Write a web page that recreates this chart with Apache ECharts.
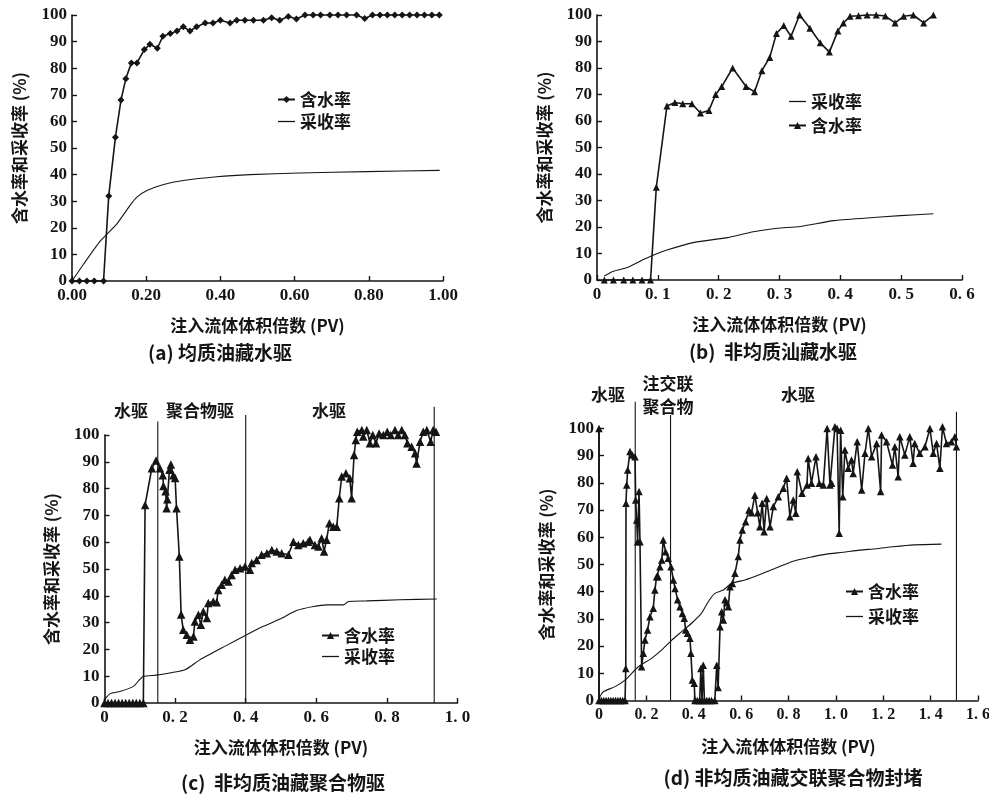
<!DOCTYPE html>
<html><head><meta charset="utf-8">
<script src="https://cdn.jsdelivr.net/npm/echarts@6/dist/echarts.min.js"></script>
<style>html,body{margin:0;padding:0;background:#fff}#c{width:989px;height:796px}</style>
</head><body><div id="c"></div>
<script>
// ---------- (a) 均质油藏水驱 ----------
const pvA_wc = [0,0.02,0.04,0.06,0.085,0.099,0.117,0.132,0.145,0.16,0.175,0.195,0.21,0.23,0.245,0.265,0.283,0.30,0.318,0.336,0.359,0.38,0.40,0.426,0.444,0.466,0.489,0.516,0.538,0.56,0.583,0.605,0.628,0.65,0.67,0.695,0.717,0.74,0.767,0.789,0.81,0.83,0.85,0.87,0.89,0.91,0.93,0.95,0.97,0.99];
const wcA = [0,0,0,0,0,32,54,68,76,82,82,87,89,87.5,92,93,94,95.6,94,95.6,97,97,98,97,98,98,98,98,99,98,99.4,98.5,100,100,100,100,100,100,100,98.7,100,100,100,100,100,100,100,100,100,100];
const pvA_rf = [0,0.031,0.076,0.121,0.157,0.175,0.202,0.247,0.3,0.39,0.48,0.614,0.794,0.991];
const rfA = [0,6.3,15,21.5,28.5,31.5,34,36.3,37.8,39.2,40,40.6,41.1,41.6];

// ---------- (b) 非均质油藏水驱 ----------
const pvB_wc = [0.012,0.027,0.044,0.059,0.074,0.088,0.0975,0.115,0.128,0.141,0.156,0.17,0.184,0.195,0.205,0.223,0.245,0.259,0.271,0.284,0.295,0.307,0.319,0.333,0.35,0.367,0.382,0.396,0.405,0.416,0.43,0.444,0.459,0.474,0.49,0.504,0.52,0.537,0.553];
const wcB = [0,0,0,0,0,0,35,65.7,67,66.5,66.5,63,64,70,73,80,73,71,79,84,93,96,92,100,95,89.5,86,94,97,99.5,99.7,100,100,99.6,97,99.5,100,97,100];
const pvB_rf = [0.012,0.027,0.05,0.07,0.093,0.115,0.16,0.215,0.257,0.296,0.334,0.389,0.444,0.499,0.553];
const rfB = [1.5,3.3,4.7,7,9.4,11.3,14.2,16,18.2,19.5,20.2,22.4,23.4,24.3,25];

// ---------- (c) 非均质油藏聚合物驱 ----------
const pvC_wc = [0,0.01,0.02,0.03,0.04,0.05,0.06,0.07,0.08,0.09,0.1,0.11,0.115,0.134,0.146,0.157,0.165,0.167,0.173,0.176,0.178,0.184,0.188,0.195,0.2,0.204,0.212,0.217,0.223,0.233,0.242,0.252,0.256,0.266,0.273,0.28,0.29,0.294,0.308,0.318,0.322,0.332,0.341,0.351,0.36,0.37,0.384,0.398,0.412,0.417,0.431,0.445,0.46,0.474,0.488,0.502,0.521,0.535,0.549,0.563,0.577,0.582,0.596,0.606,0.615,0.622,0.629,0.637,0.648,0.658,0.665,0.672,0.684,0.695,0.7,0.707,0.712,0.716,0.729,0.733,0.743,0.752,0.76,0.769,0.778,0.79,0.801,0.811,0.823,0.832,0.842,0.851,0.858,0.87,0.88,0.884,0.894,0.903,0.913,0.924,0.931,0.939];
const wcC = [0,0,0,0,0,0,0,0,0,0,0,0,73.9,87.6,90.5,87.6,85,81,79,72.7,76,87,89,85,84,72.7,54.7,33,27.3,25.5,23.6,24.8,30.4,32.9,29.2,34.1,31.7,37.3,37.9,37.6,42.2,44.1,46,45.3,47.8,49.7,50.3,50.9,49.7,52.2,53.4,55.3,55.9,57.1,56.5,55.9,55.3,60.2,59,59.6,60.2,60.9,59,58.4,61.5,56.5,60.9,67.1,65.8,65.8,76.4,84.5,85.7,83.9,76.4,92.5,98.1,101.2,101.9,99.4,101.9,96.9,100,96.9,100.6,100,101.2,100,101.9,100,101.9,100,96.9,95.6,93.2,89.4,97.5,101.2,101.9,97.5,101.9,101.2];
const pvC_rf = [0,0.016,0.044,0.082,0.1,0.11,0.152,0.228,0.27,0.346,0.403,0.45,0.497,0.544,0.592,0.629,0.677,0.691,0.743,0.837,0.941];
const rfC = [1.2,3.5,4.3,6.2,8.8,9.9,10.5,12.4,16.1,21.5,25.5,28.6,31.3,34.5,36,36.6,36.6,37.9,38.1,38.5,38.8];
const stageLinesC = [[0.151,105],[0.4,107.5],[0.934,110.5]];

// ---------- (d) 非均质油藏交联聚合物封堵 ----------
const pvD_wc = [0,0,0.01,0.02,0.03,0.04,0.05,0.06,0.07,0.08,0.09,0.1,0.11,0.113,0.114,0.117,0.121,0.131,0.141,0.152,0.155,0.159,0.163,0.169,0.173,0.18,0.187,0.194,0.205,0.215,0.229,0.236,0.243,0.25,0.257,0.265,0.271,0.281,0.292,0.304,0.314,0.321,0.332,0.342,0.352,0.36,0.366,0.374,0.384,0.388,0.394,0.402,0.405,0.415,0.425,0.43,0.435,0.44,0.445,0.455,0.465,0.475,0.489,0.497,0.503,0.511,0.518,0.525,0.532,0.539,0.546,0.553,0.563,0.574,0.588,0.595,0.605,0.619,0.633,0.644,0.658,0.67,0.679,0.689,0.697,0.708,0.722,0.736,0.757,0.778,0.792,0.806,0.82,0.831,0.837,0.857,0.878,0.883,0.897,0.916,0.93,0.947,0.963,0.975,0.982,0.996,1.005,1.014,1.02,1.029,1.038,1.052,1.066,1.073,1.09,1.109,1.123,1.137,1.151,1.172,1.189,1.193,1.214,1.239,1.249,1.263,1.27,1.291,1.312,1.326,1.333,1.354,1.376,1.397,1.411,1.425,1.439,1.45,1.467,1.488,1.502,1.509];
const wcD = [100,0,0,0,0,0,0,0,0,0,0,0,0,11.8,72.5,79.2,84.7,91.5,90.3,89.6,73.7,66.4,58.4,76.8,58.4,12.4,17.4,22.2,25.9,30.8,33.9,40.6,45.5,45.5,49.2,51.7,59,54.7,52.3,49.2,44.3,41.2,37,34.5,32,30.2,25.9,24.7,22.9,17.4,7.5,6.3,0,0,0,11.8,0,13,0,0,0,0,0,13,4.8,27.1,32.6,29.6,37,36,34.5,41.8,43,46.8,52.9,59,62.7,65.7,70,69,75.5,69,63.9,72.5,62,74.3,63.9,71.3,74.9,78,81.7,67.6,73.7,68.8,84.1,76.2,79.2,89,79.9,89.6,79.9,79.2,100,79.2,79.9,100.6,100,61.5,99.4,74.9,92.1,85.4,88.4,83.5,95.1,77.4,90.9,100,89.6,94.5,76.8,97.6,95.1,86.6,93.3,82.3,97,90.3,97,87.2,94.5,90.9,93.3,100,90.9,94.5,85.4,100.6,94.5,95.1,97,93.3];
const pvD_rf = [0,0.018,0.068,0.11,0.166,0.222,0.265,0.307,0.349,0.391,0.433,0.461,0.489,0.525,0.56,0.616,0.679,0.75,0.82,0.9,0.96,1.03,1.1,1.17,1.24,1.33,1.446];
const rfD = [0.8,3.2,5.1,7.5,12.4,15.5,18.6,22.2,25.3,28.4,32.1,36.3,39.4,40.6,43.1,44.3,46.3,48.8,51.2,52.8,53.8,54.5,55.3,55.8,56.5,57.2,57.5];
const stageLinesD = [[0.153,109.8],[0.302,105],[1.509,106.2]];

// ---------- texts ----------
const yName = '含水率和采收率 (%)';
const xName = '注入流体体积倍数 (PV)';
const captions = ['(a) 均质油藏水驱','(b)  非均质汕藏水驱','(c)  非均质油藏聚合物驱','(d) 非均质油藏交联聚合物封堵'];
const stageTextsC = ['水驱','聚合物驱','水驱'];
const stageTextsD = ['水驱','注交联','聚合物','水驱'];

const zip = (xs, ys) => xs.map((x, i) => [x, ys[i]]);
const CJK = '"Noto Sans CJK SC", sans-serif';
const NUM = '"Liberation Serif", "DejaVu Serif", serif';
const INK = '#151515';
const LINE_ICON = 'path://M0,0H40V3H0Z';

const grids = [
  {left:72, top:15, width:371, height:266},
  {left:597, top:15, width:365, height:265},
  {left:104.5, top:435, width:353, height:268},
  {left:599, top:428.5, width:379, height:272}
].map(g => Object.assign({outerBoundsMode:'none', containLabel:false}, g));

const spaced = v => v === 0 ? '0' : v.toFixed(1).replace('.', '. ');
const xConf = [
  {max:1, interval:0.2, fmt:v => v.toFixed(2), gap:36, size:17},
  {max:0.6, interval:0.1, fmt:spaced, gap:36, size:17},
  {max:1, interval:0.2, fmt:spaced, gap:36, size:17},
  {max:1.6, interval:0.2, fmt:spaced, gap:38, size:16}
];

const xAxes = xConf.map((c, i) => ({
  type:'value', gridIndex:i, min:0, max:c.max, interval:c.interval,
  axisLine:{show:true, lineStyle:{color:INK, width:1.6}},
  axisTick:{show:true, inside:true, length:5, lineStyle:{color:INK, width:1.4}},
  splitLine:{show:false},
  axisLabel:{color:INK, fontFamily:NUM, fontWeight:'bold', fontSize:c.size, margin:6, formatter:c.fmt},
  name:xName, nameLocation:'middle', nameGap:c.gap,
  nameTextStyle:{color:INK, fontFamily:CJK, fontWeight:'bold', fontSize:17}
}));

const yAxes = [0,1,2,3].map(i => ({
  type:'value', gridIndex:i, min:0, max:100, interval:10,
  axisLine:{show:true, lineStyle:{color:INK, width:1.6}},
  axisTick:{show:true, inside:true, length:5, lineStyle:{color:INK, width:1.4}},
  splitLine:{show:false},
  axisLabel:{color:INK, fontFamily:NUM, fontWeight:'bold', fontSize:17, margin:5},
  name:yName, nameLocation:'middle', nameRotate:90, nameGap:44,
  nameTextStyle:{color:INK, fontFamily:CJK, fontWeight:'bold', fontSize:17}
}));

function wcSeries(name, idx, data, symbol, size) {
  return {
    name, type:'line', xAxisIndex:idx, yAxisIndex:idx, data, clip:false,
    symbol, symbolSize:size, showSymbol:true, showAllSymbol:true, animation:false,
    itemStyle:{color:INK}, lineStyle:{color:INK, width:1.6}
  };
}
function rfSeries(name, idx, data) {
  return {
    name, type:'line', xAxisIndex:idx, yAxisIndex:idx, data, clip:false,
    symbol:'none', smooth:0.2, animation:false,
    itemStyle:{color:INK}, lineStyle:{color:INK, width:1.1}
  };
}
function stageSeries(idx, lines) {
  return lines.map(([x, top]) => ({
    type:'line', xAxisIndex:idx, yAxisIndex:idx, data:[[x,0],[x,top]], clip:false,
    symbol:'none', silent:true, animation:false, legendHoverLink:false,
    lineStyle:{color:INK, width:1.1}
  }));
}

const series = [
  wcSeries('含水率#a', 0, zip(pvA_wc, wcA), 'diamond', 7),
  rfSeries('采收率#a', 0, zip(pvA_rf, rfA)),
  wcSeries('含水率#b', 1, zip(pvB_wc, wcB), 'triangle', 7),
  rfSeries('采收率#b', 1, zip(pvB_rf, rfB)),
  wcSeries('含水率#c', 2, zip(pvC_wc, wcC), 'triangle', 8.5),
  rfSeries('采收率#c', 2, zip(pvC_rf, rfC)),
  wcSeries('含水率#d', 3, zip(pvD_wc, wcD), 'triangle', 7.5),
  rfSeries('采收率#d', 3, zip(pvD_rf, rfD)),
  ...stageSeries(2, stageLinesC),
  ...stageSeries(3, stageLinesD)
];

const legendBase = {
  orient:'vertical', itemWidth:17, itemHeight:9, itemGap:5, padding:0,
  symbolKeepAspect:true,
  formatter: n => n.split('#')[0], selectedMode:false,
  textStyle:{color:INK, fontFamily:CJK, fontWeight:'bold', fontSize:17}
};
const rfItem = n => ({name:n, icon:LINE_ICON, symbolKeepAspect:true});
const legends = [
  Object.assign({}, legendBase, {left:277, top:91, data:['含水率#a', rfItem('采收率#a')]}),
  Object.assign({}, legendBase, {left:788, top:93, itemGap:7, data:[rfItem('采收率#b'),'含水率#b']}),
  Object.assign({}, legendBase, {left:321, top:627, itemGap:4, data:['含水率#c', rfItem('采收率#c')]}),
  Object.assign({}, legendBase, {left:845, top:583, itemGap:8, data:['含水率#d', rfItem('采收率#d')]})
];

const txt = (x, y, text, size) => ({
  type:'text', x, y, silent:true,
  style:{text, fill:INK, font:'bold ' + size + 'px ' + CJK, textAlign:'center', textVerticalAlign:'middle'}
});
const graphic = [
  txt(220, 353, captions[0], 19),
  txt(773, 352, captions[1], 19),
  txt(283, 783, captions[2], 19),
  txt(793, 778, captions[3], 19),
  txt(131, 411, stageTextsC[0], 17),
  txt(200, 411, stageTextsC[1], 17),
  txt(329, 411, stageTextsC[2], 17),
  txt(608, 395, stageTextsD[0], 17),
  txt(668, 384, stageTextsD[1], 17),
  txt(668, 407, stageTextsD[2], 17),
  txt(798, 395, stageTextsD[3], 17)
];

const chart = echarts.init(document.getElementById('c'), null, {renderer:'canvas'});
chart.setOption({
  animation:false,
  backgroundColor:'#fff',
  grid:grids, xAxis:xAxes, yAxis:yAxes,
  legend:legends, series, graphic
});
</script>
</body></html>
